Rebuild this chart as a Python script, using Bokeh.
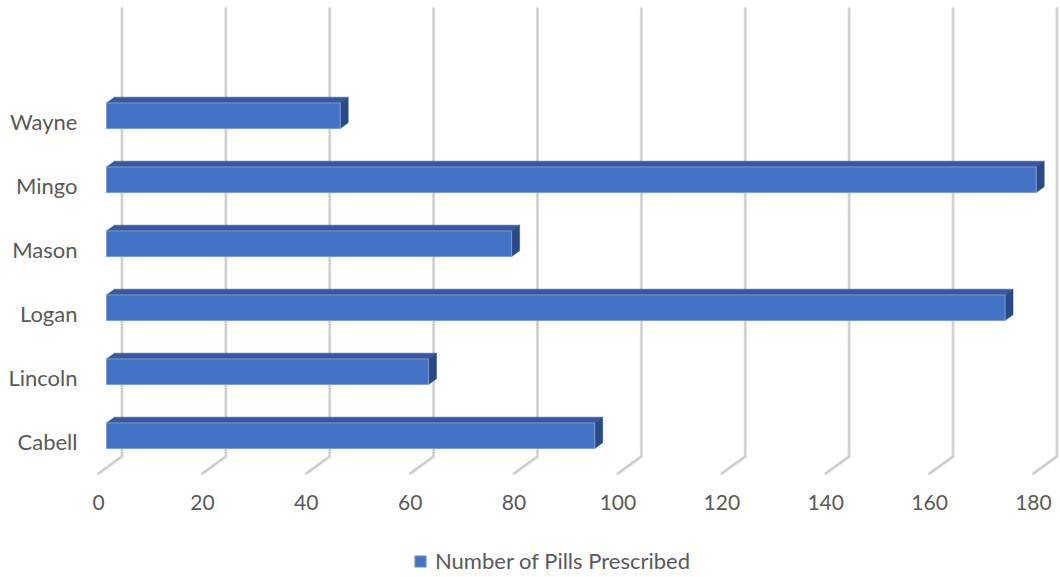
from bokeh.plotting import figure
from bokeh.models import Range1d, FixedTicker, Legend, LegendItem
from bokeh.embed import file_html
from bokeh.resources import INLINE

# ---- data ----
counties = ["Cabell", "Lincoln", "Logan", "Mason", "Mingo", "Wayne"]
pills = [94, 62, 173, 78, 179, 45]
x_ticks = [0, 20, 40, 60, 80, 100, 120, 140, 160, 180]
series_name = "Number of Pills Prescribed"

# ---- 3D projection constants (data units) ----
DEPTH_X = 4.52      # full floor depth, x shift
DEPTH_Y = 0.2656    # full floor depth, y shift
F_FRONT = 0.34      # bar front plane as fraction of depth
F_BACK = 0.68       # bar back plane as fraction of depth
HALF_H = 0.2        # half bar height
WALL_TOP = 6.77
FLOOR = -0.5

FONT = "Lato"
TXT = "#595959"

p = figure(width=1060, height=577, output_backend="svg", toolbar_location=None,
           x_range=Range1d(-18.868, 185.21), y_range=Range1d(-2.125, 6.891))
p.min_border = 0
p.outline_line_color = None
p.grid.visible = False
p.background_fill_color = "white"

# back-wall gridlines
gx = [[v + DEPTH_X, v + DEPTH_X] for v in x_ticks]
gy = [[FLOOR + DEPTH_Y, WALL_TOP] for v in x_ticks]
p.multi_line(gx, gy, line_color="#dcdcdc", line_width=3, line_cap="round")
p.multi_line(gx, gy, line_color="#c8c8c8", line_width=1)
# floor lines
fx = [[v, v + DEPTH_X] for v in x_ticks]
fy = [[FLOOR, FLOOR + DEPTH_Y] for v in x_ticks]
p.multi_line(fx, fy, line_color="#d8d8d8", line_width=3, line_cap="round")
p.multi_line(fx, fy, line_color="#c4c4c4", line_width=1)

# bars
idx = list(range(len(counties)))
left = [F_FRONT * DEPTH_X for _ in idx]
right = [v + F_FRONT * DEPTH_X for v in pills]
bottom = [i - HALF_H + F_FRONT * DEPTH_Y for i in idx]
top = [i + HALF_H + F_FRONT * DEPTH_Y for i in idx]
d = (F_BACK - F_FRONT) * DEPTH_X
e = (F_BACK - F_FRONT) * DEPTH_Y

top_xs = [[l, r, r + d, l + d] for l, r in zip(left, right)]
top_ys = [[t, t, t + e, t + e] for t in top]
side_xs = [[r, r + d, r + d, r] for r in right]
side_ys = [[b, b + e, t + e, t] for b, t in zip(bottom, top)]

p.patches(top_xs, top_ys, fill_color="#35599b", line_color="#35599b", line_width=0.5)
p.patches(side_xs, side_ys, fill_color="#2a4a85", line_color="#2a4a85", line_width=0.5)
front = p.quad(left=left, right=right, bottom=bottom, top=top,
               fill_color="#4472C4", line_color="#7d9bd3", line_width=1)

# axes (fixed inside the frame)
xa = p.xaxis[0]
xa.fixed_location = FLOOR
xa.ticker = FixedTicker(ticks=x_ticks)
xa.axis_line_color = None
xa.major_tick_line_color = None
xa.minor_tick_line_color = None
xa.major_tick_out = 0
xa.minor_tick_out = 0
xa.major_label_standoff = 21
xa.major_label_text_font = FONT
xa.major_label_text_font_size = "21px"
xa.major_label_text_color = TXT

ya = p.yaxis[0]
ya.fixed_location = -1.155
ya.ticker = FixedTicker(ticks=idx)
ya.major_label_overrides = {i: c for i, c in zip(idx, counties)}
ya.axis_line_color = None
ya.major_tick_line_color = None
ya.minor_tick_line_color = None
ya.major_tick_out = 0
ya.minor_tick_out = 0
ya.major_label_standoff = 15
ya.major_label_text_font = FONT
ya.major_label_text_font_size = "22px"
ya.major_label_text_color = TXT

legend = Legend(items=[LegendItem(label=series_name, renderers=[front])],
                orientation="horizontal", location=(413, 3),
                glyph_width=14, glyph_height=14, label_standoff=8,
                padding=0, margin=0, border_line_color=None,
                background_fill_alpha=0,
                label_text_font=FONT, label_text_font_size="22px",
                label_text_color=TXT)
p.add_layout(legend, "center")

open("out.html", "w").write(file_html(p, INLINE))
